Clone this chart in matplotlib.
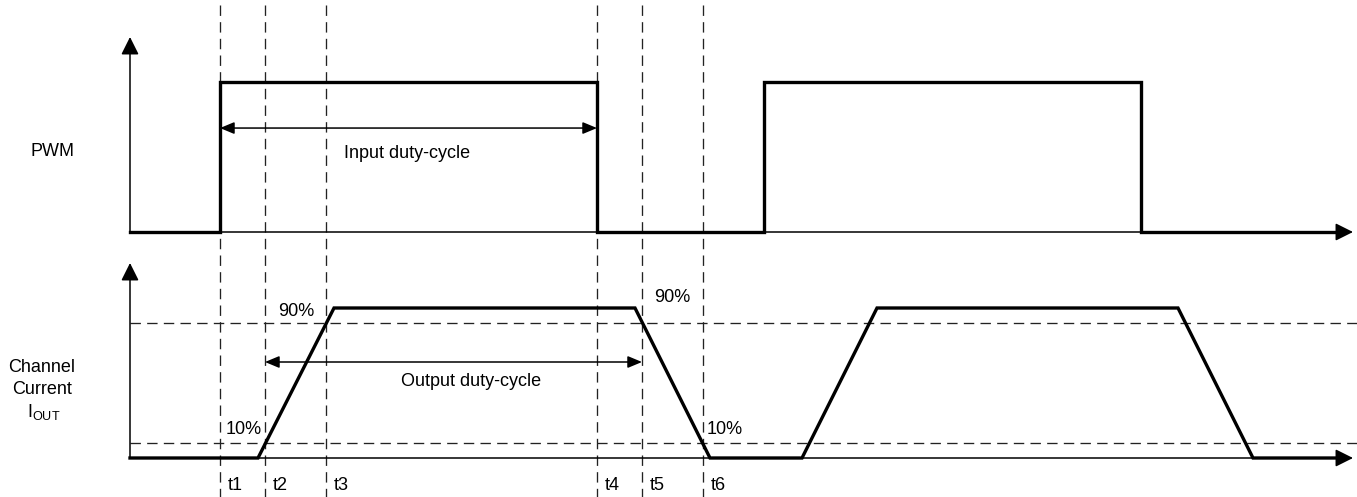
import matplotlib
matplotlib.use("Agg")
import matplotlib.pyplot as plt
from matplotlib.transforms import Affine2D

plt.rcParams.update({
    "font.family": ["Liberation Sans", "DejaVu Sans"],
    "font.size": 13,
    "lines.scale_dashes": False,
})

W, H = 1357, 497

# waveforms: time (px along the time axis) and normalised level
pwm_t = [130, 220, 220, 597, 597, 764, 764, 1141, 1141, 1340]
pwm_v = [0, 0, 1, 1, 0, 0, 1, 1, 0, 0]
cur_t = [130, 258, 334, 635, 710, 802, 877, 1178, 1253, 1340]
cur_v = [0, 0, 1, 1, 0, 0, 1, 1, 0, 0]

# timing markers
edge_t = [220, 265, 326, 597, 642, 703]
edge_lab = ["t1", "t2", "t3", "t4", "t5", "t6"]
thresholds = [0.9, 0.1]

T0, T_END = 130, 1353
PWM_BASE, CUR_BASE, AMP = 232, 458, 150

fig = plt.figure(figsize=(W / 100, H / 100), dpi=100)
ax = fig.add_axes([0, 0, 1, 1])
ax.set_xlim(0, W)
ax.set_ylim(H, 0)
ax.axis("off")


def chan(base):
    # (time, level) -> pixel space of the figure axes
    return Affine2D().scale(1, -AMP).translate(0, base) + ax.transData


pwm_tr = chan(PWM_BASE)
cur_tr = chan(CUR_BASE)

DASH = (0, (7.5, 4.5))

# vertical timing markers
ax.vlines(edge_t, 5, H, colors="#222222", lw=0.95, linestyles=DASH, zorder=1)

# 10% / 90% threshold lines
for lvl in thresholds:
    ax.plot([T0, W], [lvl, lvl], transform=cur_tr, color="#222222", lw=0.95,
            ls=DASH, zorder=1)

# axes with arrows
big = dict(arrowstyle="-|>,head_length=0.6,head_width=0.3", mutation_scale=18,
           lw=1.1, color="black", shrinkA=0, shrinkB=0)
for tr in (pwm_tr, cur_tr):
    ax.annotate("", xy=(T0, 1.3), xytext=(T0, 0), xycoords=tr, textcoords=tr,
                arrowprops=big, zorder=2)
    ax.annotate("", xy=(T_END, 0), xytext=(T0, 0), xycoords=tr, textcoords=tr,
                arrowprops=big, zorder=2)

# waveforms
ax.plot(pwm_t, pwm_v, transform=pwm_tr, color="black", lw=2.4,
        solid_joinstyle="miter", zorder=3)
ax.plot(cur_t, cur_v, transform=cur_tr, color="black", lw=2.4,
        solid_joinstyle="miter", zorder=3)

# duty-cycle dimension arrows
small = dict(arrowstyle="<|-|>,head_length=0.72,head_width=0.3",
             mutation_scale=12, lw=1.1, color="black", shrinkA=0, shrinkB=0)
ax.annotate("", xy=(pwm_t[3], 0.693), xytext=(pwm_t[1], 0.693),
            xycoords=pwm_tr, textcoords=pwm_tr, arrowprops=small, zorder=4)
ax.annotate("", xy=(edge_t[4], 0.64), xytext=(edge_t[1], 0.64),
            xycoords=cur_tr, textcoords=cur_tr, arrowprops=small, zorder=4)
ax.text(407, 153, "Input duty-cycle", ha="center", va="center")
ax.text(471, 382, "Output duty-cycle", ha="center", va="center")

# threshold labels
ax.text(278, 311, "90%", ha="left", va="center")
ax.text(654, 297, "90%", ha="left", va="center")
ax.text(226, 429, "10%", ha="left", va="center")
ax.text(707, 429, "10%", ha="left", va="center")

# time labels
for t, lab in zip(edge_t, edge_lab):
    ax.text(t + 8, 486, lab, ha="left", va="center")

# channel names
ax.text(52, 152, "PWM", ha="center", va="center")
ax.text(42, 367, "Channel", ha="center", va="center")
ax.text(42, 390, "Current", ha="center", va="center")
ax.text(44, 412, r"I$_{\mathregular{OUT}}$", ha="center", va="center")

fig.savefig("out.png", dpi=100)
